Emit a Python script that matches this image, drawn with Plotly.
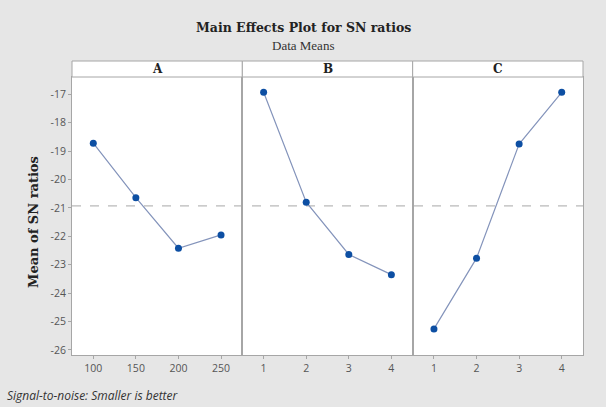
import plotly.graph_objects as go
from plotly.subplots import make_subplots

# Data
factors = ["A", "B", "C"]
levels_A = [100, 150, 200, 250]
levels_B = [1, 2, 3, 4]
levels_C = [1, 2, 3, 4]
sn_A = [-18.72, -20.64, -22.42, -21.95]
sn_B = [-16.93, -20.80, -22.64, -23.35]
sn_C = [-25.26, -22.77, -18.75, -16.93]
overall_mean = -20.93
y_ticks = [-17, -18, -19, -20, -21, -22, -23, -24, -25, -26]
y_ticktext = ["-17", "-18", "-19", "-20", "-21", "-22", "-23", "-24", "-25", "-26"]

levels = [levels_A, levels_B, levels_C]
values = [sn_A, sn_B, sn_C]
x_ranges = [[75, 275], [0.5, 4.5], [0.5, 4.5]]

W, H = 606, 407
ml, mr, mt, mb = 72, 23, 77, 52
strip_h = 16

BORDER = "#a6a6a6"
BG = "#e6e6e6"

fig = make_subplots(rows=1, cols=3, shared_yaxes=True, horizontal_spacing=0)

for i in range(3):
    fig.add_trace(
        go.Scatter(
            x=levels[i], y=values[i], mode="lines+markers",
            line=dict(color="#8494bb", width=1.2),
            marker=dict(color="#0d4fa3", size=7),
            showlegend=False, hoverinfo="x+y",
        ),
        row=1, col=i + 1,
    )
    fig.update_xaxes(
        range=x_ranges[i], tickvals=levels[i], ticktext=[str(v) for v in levels[i]],
        showgrid=False, zeroline=False, showline=True, mirror=True,
        linecolor=BORDER, linewidth=1, ticks="outside", ticklen=3, tickcolor=BORDER,
        tickfont=dict(family="Open Sans", size=10.5, color="#555555"),
        row=1, col=i + 1,
    )

fig.update_yaxes(
    range=[-26.18, -16.39], tickvals=y_ticks, ticktext=y_ticktext,
    showgrid=False, zeroline=False, showline=True, mirror=True,
    linecolor=BORDER, linewidth=1, ticks="outside", ticklen=3, tickcolor=BORDER,
    tickfont=dict(family="Open Sans", size=10.5, color="#555555"),
)
fig.update_yaxes(ticks="", row=1, col=2)
fig.update_yaxes(ticks="", row=1, col=3)

# Mean reference line
fig.add_shape(type="line", xref="paper", yref="y", x0=0, x1=1,
              y0=overall_mean, y1=overall_mean,
              line=dict(color="#a8a8a8", width=1, dash="dash"), layer="below")

# Strip headers
plot_h = H - mt - mb
sh = strip_h / plot_h
for i, f in enumerate(factors):
    x0 = i / 3
    x1 = (i + 1) / 3
    fig.add_shape(type="rect", xref="paper", yref="paper", x0=x0, x1=x1,
                  y0=1, y1=1 + sh, fillcolor="white",
                  line=dict(color=BORDER, width=1))
    fig.add_annotation(text="<b>" + f + "</b>", xref="paper", yref="paper",
                       x=(x0 + x1) / 2, y=1 + sh / 2, showarrow=False,
                       font=dict(family="DejaVu Serif", size=12, color="#222222"),
                       xanchor="center", yanchor="middle")

# Titles
fig.add_annotation(text="<b>Main Effects Plot for SN ratios</b>", xref="paper", yref="paper",
                   x=(W / 2 - ml) / (W - ml - mr), y=1 + (mt - 27) / plot_h,
                   showarrow=False, xanchor="center", yanchor="middle",
                   font=dict(family="DejaVu Serif", size=12.5, color="#222222"))
fig.add_annotation(text="Data Means", xref="paper", yref="paper",
                   x=(W / 2 - ml) / (W - ml - mr), y=1 + (mt - 45) / plot_h,
                   showarrow=False, xanchor="center", yanchor="middle",
                   font=dict(family="Liberation Serif", size=13, color="#333333"))
fig.add_annotation(text="<b>Mean of SN ratios</b>", xref="paper", yref="paper",
                   x=(33 - ml) / (W - ml - mr), y=(H - mb - 222) / plot_h,
                   showarrow=False, textangle=-90, xanchor="center", yanchor="middle",
                   font=dict(family="DejaVu Serif", size=13, color="#222222"))
fig.add_annotation(text="<i>Signal-to-noise: Smaller is better</i>", xref="paper", yref="paper",
                   x=(5 - ml) / (W - ml - mr), y=-(395 - (H - mb)) / plot_h,
                   showarrow=False, xanchor="left", yanchor="middle",
                   font=dict(family="Open Sans", size=12, color="#333333"))

fig.update_layout(
    width=W, height=H,
    margin=dict(l=ml, r=mr, t=mt, b=mb),
    paper_bgcolor=BG, plot_bgcolor="white",
    showlegend=False,
)

fig.write_html("out.html")
